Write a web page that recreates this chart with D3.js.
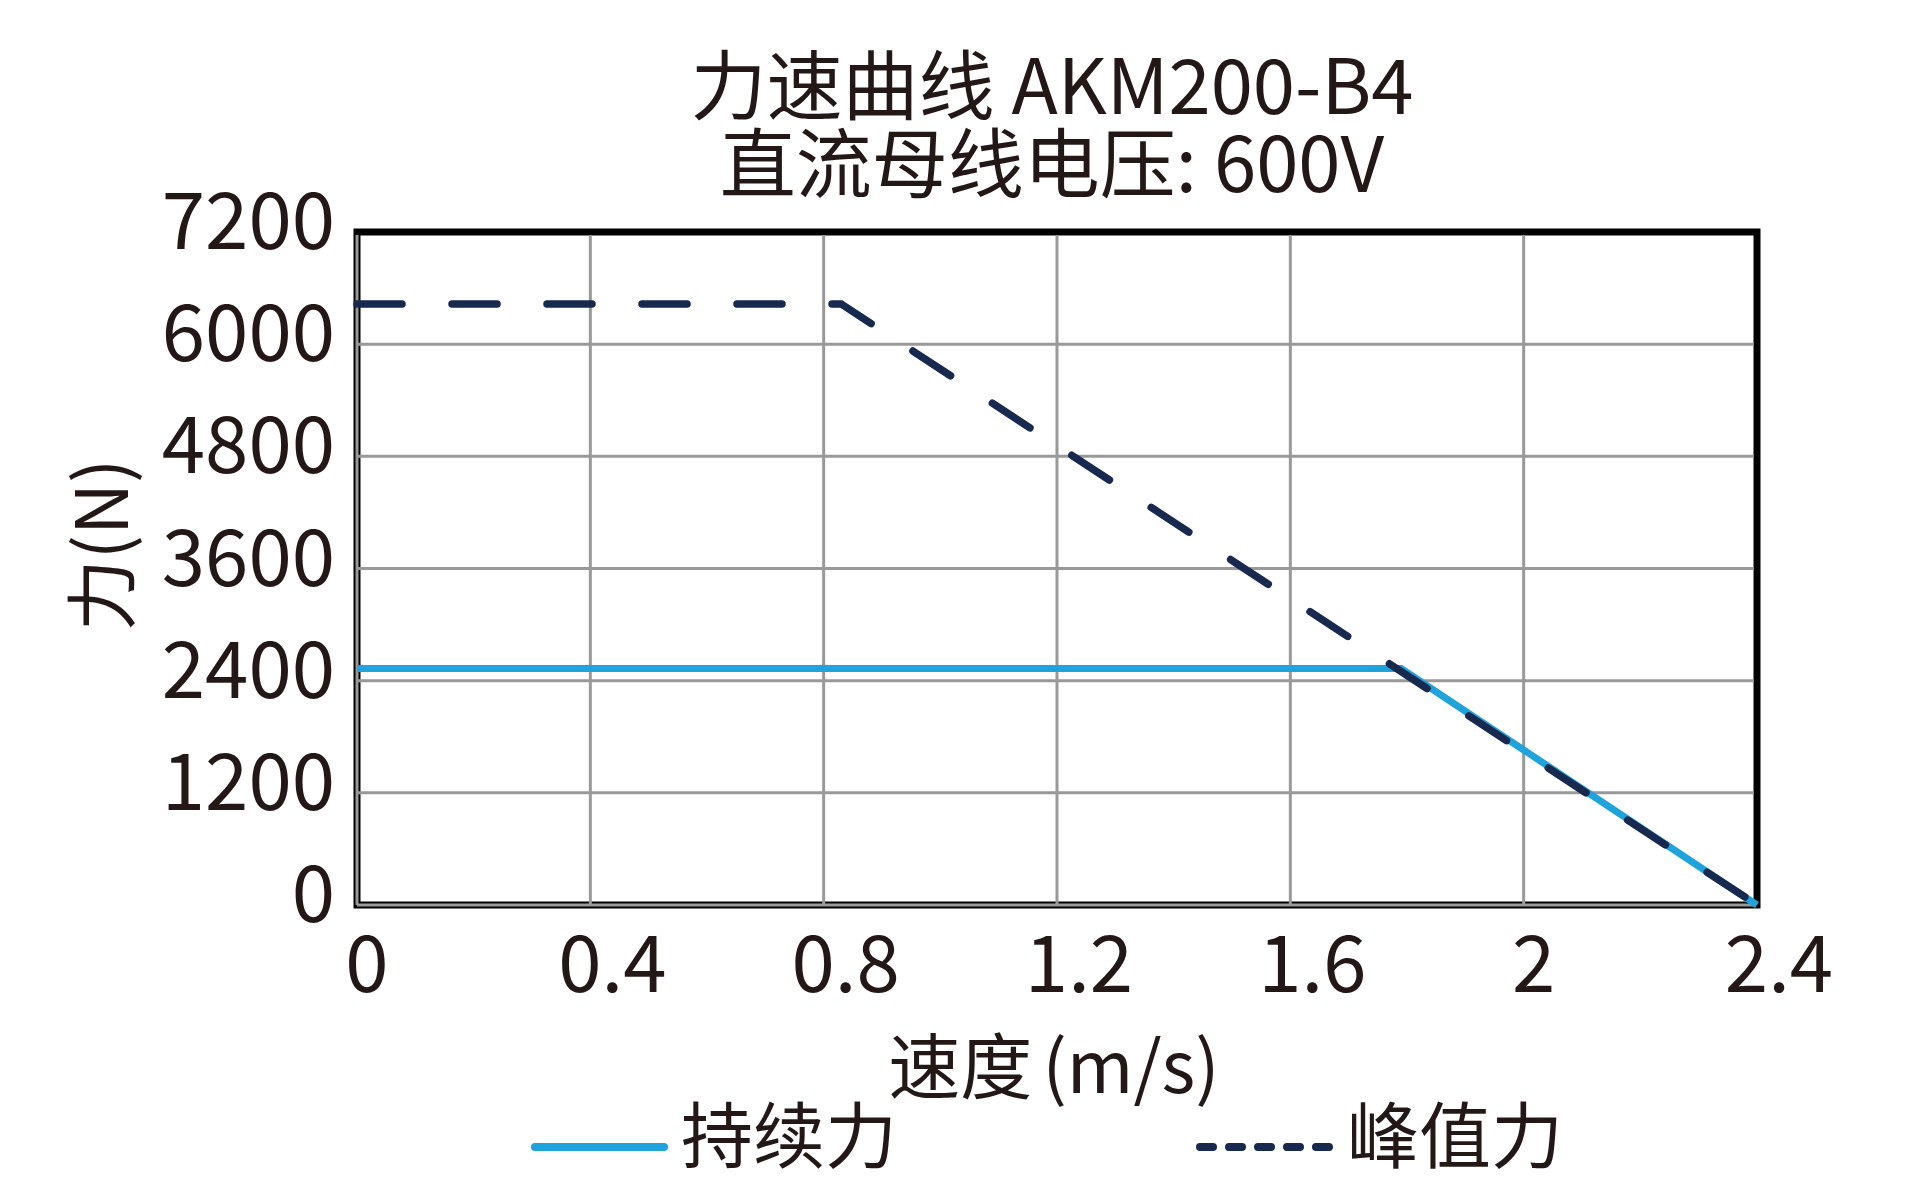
<!DOCTYPE html>
<html>
<head>
<meta charset="utf-8">
<script src="https://cdn.jsdelivr.net/npm/d3@7"></script>
<style>
    body { margin: 0; background: #fff; }
    text { font-family: "Noto Sans CJK SC", "Noto Sans", sans-serif; fill: #231815; }
</style>
</head>
<body>
<div id="main"></div>
<script>
// data
const titleLines = ["力速曲线 AKM200-B4", "直流母线电压: 600V"];
const xTicks = [0, 0.4, 0.8, 1.2, 1.6, 2, 2.4];
const yTicks = [0, 1200, 2400, 3600, 4800, 6000, 7200];
const contSpeed = [0, 1.79, 2.4];
const contForce = [2530, 2530, 0];
const peakSpeed = [0, 0.83, 2.4];
const peakForce = [6430, 6430, 0];
const seriesNames = ["持续力", "峰值力"];

const ctx = {
    svg_w: 1932,
    svg_h: 1184,
    left: 357,
    right: 1757,
    top: 232,
    bottom: 905,
    font_size: 78,
    blue: "#1fa3dd",
    navy: "#17294f",
    grid: "#999999",
};

function createViz() {
    let svg = d3.select("#main").append("svg")
        .attr("width", ctx.svg_w)
        .attr("height", ctx.svg_h);

    let x = d3.scaleLinear().domain([0, 2.4]).range([ctx.left, ctx.right]);
    let y = d3.scaleLinear().domain([0, 7200]).range([ctx.bottom, ctx.top]);

    /* title */
    svg.selectAll("text.title")
        .data(titleLines)
        .enter().append("text")
        .attr("class", "title")
        .attr("x", 1052)
        .attr("y", (d, i) => 114 + i * 78)
        .attr("text-anchor", "middle")
        .style("font-size", 76)
        .text(d => d);

    /* frame */
    svg.append("rect")
        .attr("x", ctx.left)
        .attr("y", ctx.top)
        .attr("width", ctx.right - ctx.left)
        .attr("height", ctx.bottom - ctx.top)
        .style("fill", "none")
        .style("stroke", "#000")
        .style("stroke-width", 7);

    /* grid */
    let grid = svg.append("g").attr("id", "grid");
    grid.selectAll("line.gx")
        .data(xTicks.slice(0, -1))
        .enter().append("line")
        .attr("x1", d => x(d)).attr("x2", d => x(d))
        .attr("y1", ctx.top + 3).attr("y2", ctx.bottom)
        .style("stroke", ctx.grid)
        .style("stroke-width", 3);
    grid.selectAll("line.gy")
        .data(yTicks.slice(0, -1))
        .enter().append("line")
        .attr("y1", d => y(d)).attr("y2", d => y(d))
        .attr("x1", ctx.left).attr("x2", ctx.right - 3)
        .style("stroke", ctx.grid)
        .style("stroke-width", 3);

    /* tick labels */
    svg.selectAll("text.ytick")
        .data(yTicks)
        .enter().append("text")
        .attr("class", "ytick")
        .attr("x", 335)
        .attr("y", d => y(d) + 17)
        .attr("text-anchor", "end")
        .style("font-size", ctx.font_size)
        .text(d => d);

    svg.selectAll("text.xtick")
        .data(xTicks)
        .enter().append("text")
        .attr("class", "xtick")
        .attr("x", d => x(d) + (Number.isInteger(d) ? 10 : 22))
        .attr("y", 992)
        .attr("text-anchor", "middle")
        .style("font-size", ctx.font_size)
        .text(d => d);

    /* axis titles */
    svg.append("text")
        .attr("transform", "translate(128,545) rotate(-90)")
        .attr("text-anchor", "middle")
        .style("font-size", 72)
        .text("力(N)");

    let xt = svg.append("text")
        .attr("x", 1054)
        .attr("y", 1093)
        .attr("text-anchor", "middle")
        .style("font-size", 72);
    xt.append("tspan").text("速度");
    xt.append("tspan").attr("dx", 10).text("(m/s)");

    /* curves */
    let line = d3.line().x(d => x(d[0])).y(d => y(d[1]));

    svg.append("path")
        .datum(d3.zip(contSpeed, contForce))
        .attr("d", line)
        .style("fill", "none")
        .style("stroke", ctx.blue)
        .style("stroke-width", 7);

    svg.append("path")
        .datum(d3.zip(peakSpeed, peakForce))
        .attr("d", line)
        .style("fill", "none")
        .style("stroke", ctx.navy)
        .style("stroke-width", 7.5)
        .style("stroke-linecap", "round")
        .style("stroke-dasharray", "45 50");

    /* legend */
    let legend = svg.append("g").attr("id", "legend");
    legend.append("line")
        .attr("x1", 535).attr("x2", 664)
        .attr("y1", 1147).attr("y2", 1147)
        .style("stroke", ctx.blue)
        .style("stroke-width", 8)
        .style("stroke-linecap", "round");
    legend.append("text")
        .attr("x", 681).attr("y", 1162)
        .style("font-size", 72)
        .text(seriesNames[0]);

    legend.append("line")
        .attr("x1", 1200).attr("x2", 1330)
        .attr("y1", 1147).attr("y2", 1147)
        .style("stroke", ctx.navy)
        .style("stroke-width", 8)
        .style("stroke-linecap", "round")
        .style("stroke-dasharray", "13 16");
    legend.append("text")
        .attr("x", 1347).attr("y", 1162)
        .style("font-size", 72)
        .text(seriesNames[1]);
}

createViz();
</script>
</body>
</html>
